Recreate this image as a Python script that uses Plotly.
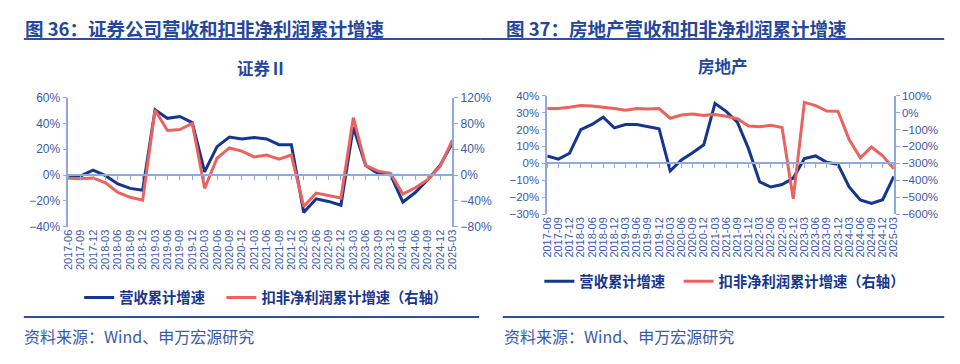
import plotly.graph_objects as go

quarters = [
    "2017-06", "2017-09", "2017-12",
    "2018-03", "2018-06", "2018-09", "2018-12",
    "2019-03", "2019-06", "2019-09", "2019-12",
    "2020-03", "2020-06", "2020-09", "2020-12",
    "2021-03", "2021-06", "2021-09", "2021-12",
    "2022-03", "2022-06", "2022-09", "2022-12",
    "2023-03", "2023-06", "2023-09", "2023-12",
    "2024-03", "2024-06", "2024-09", "2024-12",
    "2025-03",
]

# 证券Ⅱ
sec_revenue = [-1.2, -0.7, 3.7, -0.5, -7.0, -10.4, -11.8,
               50.6, 44.0, 45.4, 40.7,
               2.5, 22.0, 29.4, 28.0,
               29.0, 28.0, 23.5, 23.5,
               -29.0, -18.5, -20.5, -23.5,
               37.0, 7.4, 1.2, 0.2,
               -21.0, -13.6, -3.7, 7.4,
               25.0]
sec_profit = [-5.0, -6.0, -4.5, -12.0, -27.0, -34.6, -39.0,
              101.0, 69.0, 70.6, 80.0,
              -20.7, 26.0, 42.0, 37.0,
              28.0, 31.0, 24.7, 31.0,
              -49.0, -28.0, -32.0, -35.5,
              89.0, 15.0, 6.0, 2.5,
              -29.6, -19.8, -7.4, 13.3,
              54.0]

# 房地产
re_revenue = [4.4, 2.5, 6.0, 20.0, 23.0, 27.3, 21.0,
              23.0, 23.0, 21.7, 20.5,
              -4.4, 2.0, 6.3, 11.0,
              35.5, 30.8, 24.4, 8.7,
              -11.0, -14.0, -12.5, -8.7,
              2.9, 4.4, 0.6, -0.6,
              -14.0, -21.7, -23.7, -21.5,
              -7.7]
re_profit = [24.0, 24.0, 32.0, 43.0, 39.0, 33.0, 24.0,
             14.0, 24.0, 22.0, 24.0,
             -33.0, -14.0, -8.0, -16.0,
             -11.0, -21.0, -36.0, -79.0,
             -84.0, -75.0, -88.0, -510.0,
             61.0, 42.0, 10.0, 8.0,
             -159.0, -267.0, -203.0, -255.0,
             -332.0]

name_rev = "营收累计增速"
name_profit = "扣非净利润累计增速（右轴）"

BLUE = "#16358C"
RED = "#EC625F"
AXIS = "#8EA9DB"
TXT = "#3A5AA8"
TITLE = "#24479A"
CJK = "Noto Sans CJK SC"
NUM = "Liberation Sans, Arial, sans-serif"

W, H = 960, 364
OFF = 8  # page body margin in the browser


def px_x(v):
    return (v - OFF) / W


def px_y(v):
    return 1 - (v - OFF) / H


# plot domains (pixels in the final picture)
L_dom_x = [px_x(63), px_x(452)]
L_dom_y = [px_y(228), px_y(94)]
R_dom_x = [px_x(548), px_x(899)]
R_dom_y = [px_y(215), px_y(92)]

L_yr = [-40, 60]
L_y2r = [-80, 120]
R_yr = [-30, 40]
R_y2r = [-600, 100]


def zero_pos(dom, rng):
    return dom[0] + (0 - rng[0]) / (rng[1] - rng[0]) * (dom[1] - dom[0])


fig = go.Figure()

# Left chart
fig.add_trace(go.Scatter(x=quarters, y=sec_revenue, name=name_rev, mode="lines",
                         line=dict(color=BLUE, width=3), xaxis="x", yaxis="y",
                         legend="legend"))
fig.add_trace(go.Scatter(x=quarters, y=sec_profit, name=name_profit, mode="lines",
                         line=dict(color=RED, width=3), xaxis="x", yaxis="y2",
                         legend="legend2"))
fig.add_trace(go.Scatter(x=quarters, y=[0] * len(quarters), mode="lines",
                         line=dict(width=0), opacity=0, showlegend=False,
                         hoverinfo="skip", xaxis="x3", yaxis="y"))

# Right chart
fig.add_trace(go.Scatter(x=quarters, y=re_revenue, name=name_rev, mode="lines",
                         line=dict(color=BLUE, width=3), xaxis="x2", yaxis="y3",
                         legend="legend3"))
fig.add_trace(go.Scatter(x=quarters, y=re_profit, name=name_profit, mode="lines",
                         line=dict(color=RED, width=3), xaxis="x2", yaxis="y4",
                         legend="legend4"))
fig.add_trace(go.Scatter(x=quarters, y=[0] * len(quarters), mode="lines",
                         line=dict(width=0), opacity=0, showlegend=False,
                         hoverinfo="skip", xaxis="x4", yaxis="y3"))

n = len(quarters)


def xlab(size):
    return dict(type="category", range=[0, n - 1], tickmode="array", tickvals=quarters,
                ticktext=quarters, tickangle=-90, showline=False, ticks="",
                showgrid=False, zeroline=False,
                tickfont=dict(family=NUM, size=size, color=TXT))


xzero = dict(type="category", range=[0, n - 1], tickmode="array", tickvals=quarters,
             showticklabels=False, showline=True, linecolor=AXIS, linewidth=1.5,
             ticks="outside", ticklen=4, tickcolor=AXIS, tickwidth=1,
             showgrid=False, zeroline=False, anchor="free")


def yax(size):
    return dict(showline=True, linecolor=AXIS, linewidth=1.5, ticks="outside", ticklen=4,
                tickcolor=AXIS, showgrid=False, zeroline=False, ticksuffix="%",
                tickfont=dict(family=NUM, size=size, color=TXT))


def leg(x, y):
    return dict(orientation="h", x=px_x(x), xanchor="left", y=px_y(y), yanchor="middle",
                font=dict(family=CJK, size=14.3, color=BLUE, weight="bold"),
                itemwidth=30, bgcolor="rgba(0,0,0,0)", borderwidth=0)


fig.update_layout(
    width=W, height=H,
    margin=dict(l=0, r=0, t=0, b=0),
    paper_bgcolor="white", plot_bgcolor="white",
    xaxis=dict(domain=L_dom_x, anchor="y", **xlab(11)),
    xaxis3=dict(overlaying="x", position=zero_pos(L_dom_y, L_yr), **xzero),
    yaxis=dict(domain=L_dom_y, anchor="x", range=L_yr, dtick=20, **yax(12)),
    yaxis2=dict(overlaying="y", side="right", anchor="x", range=L_y2r, dtick=40, **yax(12)),
    xaxis2=dict(domain=R_dom_x, anchor="y3", **xlab(11)),
    xaxis4=dict(overlaying="x2", position=zero_pos(R_dom_y, R_yr), **xzero),
    yaxis3=dict(domain=R_dom_y, anchor="x2", range=R_yr, dtick=10, **yax(11.5)),
    yaxis4=dict(overlaying="y3", side="right", anchor="x2", range=R_y2r, dtick=100, **yax(11.5)),
    legend=leg(74, 302),
    legend2=leg(218, 302),
    legend3=leg(540, 285),
    legend4=leg(681, 285),
    showlegend=True,
)

annos = [
    dict(text="图 36：证券公司营收和扣非净利润累计增速", x=px_x(17), y=px_y(22), xanchor="left",
         yanchor="middle", font=dict(family=CJK, size=18.5, color=TITLE, weight="bold")),
    dict(text="图 37：房地产营收和扣非净利润累计增速", x=px_x(504), y=px_y(22), xanchor="left",
         yanchor="middle", font=dict(family=CJK, size=18.5, color=TITLE, weight="bold")),
    dict(text="证券Ⅱ", x=px_x(259), y=px_y(63), xanchor="center", yanchor="middle",
         font=dict(family=CJK, size=16.5, color=TITLE, weight="bold")),
    dict(text="房地产", x=px_x(726), y=px_y(61), xanchor="center", yanchor="middle",
         font=dict(family=CJK, size=16.5, color=TITLE, weight="bold")),
    dict(text="资料来源：Wind、申万宏源研究", x=px_x(16), y=px_y(342), xanchor="left",
         yanchor="middle", font=dict(family=CJK, size=16, color=TXT)),
    dict(text="资料来源：Wind、申万宏源研究", x=px_x(502), y=px_y(342), xanchor="left",
         yanchor="middle", font=dict(family=CJK, size=16, color=TXT)),
]
for a in annos:
    a.update(xref="paper", yref="paper", showarrow=False)
fig.update_layout(annotations=annos)

rule = dict(type="line", xref="paper", yref="paper", line=dict(color="#2E50A3", width=2))
fig.update_layout(shapes=[
    dict(x0=px_x(18), x1=px_x(480), y0=px_y(33), y1=px_y(33), **rule),
    dict(x0=px_x(480), x1=px_x(950), y0=px_y(33), y1=px_y(33), **rule),
    dict(x0=px_x(18), x1=px_x(479), y0=px_y(322), y1=px_y(322), **rule),
    dict(x0=px_x(503), x1=px_x(950), y0=px_y(322), y1=px_y(322), **rule),
])

fig.write_html("out.html")
